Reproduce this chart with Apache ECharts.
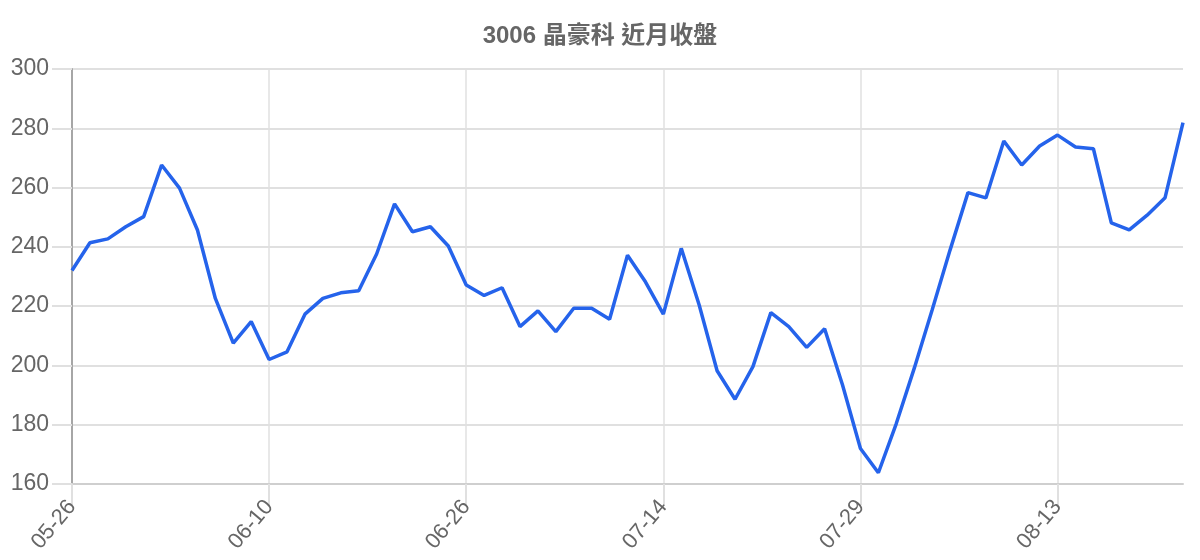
<!DOCTYPE html>
<html>
<head>
<meta charset="utf-8">
<title>3006 晶豪科 近月收盤</title>
<script src="https://cdn.jsdelivr.net/npm/echarts@6/dist/echarts.min.js"></script>
<style>
  html, body { margin: 0; padding: 0; background: #fff; }
  #chart { width: 1200px; height: 560px; }
</style>
</head>
<body>
<div id="chart"></div>
<script>
// trading days shown on the x axis
const dates = [
  '05-26', '05-27', '05-28', '05-29', '05-30', '06-02', '06-03', '06-04', '06-05', '06-06', '06-09', '06-10',
  '06-11', '06-12', '06-13', '06-16', '06-17', '06-18', '06-19', '06-23', '06-24', '06-25', '06-26',
  '06-27', '06-30', '07-01', '07-02', '07-03', '07-04', '07-08', '07-09', '07-10', '07-11', '07-14',
  '07-15', '07-16', '07-17', '07-18', '07-21', '07-22', '07-23', '07-24', '07-25', '07-28', '07-29',
  '07-30', '07-31', '08-01', '08-04', '08-05', '08-06', '08-07', '08-08', '08-11', '08-12', '08-13',
  '08-14', '08-15', '08-18', '08-19', '08-20', '08-21', '08-22'
];

// closing prices
const closes = [
  232.0, 241.4, 242.7, 246.8, 250.2, 267.6, 259.8, 245.7, 222.6, 207.5, 214.8, 202.0,
  204.6, 217.3, 222.6, 224.5, 225.2, 237.6, 254.5, 245.1, 246.8, 240.3, 227.1,
  223.6, 226.2, 213.1, 218.4, 211.4, 219.3, 219.3, 215.6, 237.2, 228.2, 217.3,
  239.5, 220.4, 198.2, 188.6, 199.6, 217.8, 213.1, 206.1, 212.4, 193.4, 172.0,
  163.8, 180.4, 199.0, 218.7, 238.9, 258.3, 256.5, 275.7, 267.6, 274.0, 277.7,
  273.7, 273.1, 248.1, 245.7, 250.7, 256.6, 281.9
];

const yTicks = { min: 160, max: 300, step: 20 };

const chart = echarts.init(document.getElementById('chart'));

const gridColor = '#e0e0e0';
const textColor = '#666';
const fontFamily = '"Liberation Sans", Arial, "Noto Sans CJK TC", sans-serif';

const option = {
  animation: false,
  title: {
    text: '3006 晶豪科 近月收盤',
    left: 'center',
    top: 19,
    textStyle: {
      color: textColor,
      fontSize: 24,
      fontWeight: 'bold',
      fontFamily: fontFamily
    }
  },
  grid: {
    left: 72,
    right: 17,
    top: 69,
    bottom: 76
  },
  xAxis: {
    type: 'category',
    data: dates,
    boundaryGap: false,
    axisLine: { lineStyle: { color: '#cfcfcf', width: 2 } },
    axisTick: {
      show: true,
      interval: 10,
      length: 21,
      lineStyle: { color: gridColor, width: 2 }
    },
    axisLabel: {
      interval: 10,
      rotate: 50,
      margin: 19,
      color: textColor,
      fontSize: 22,
      fontFamily: fontFamily
    },
    splitLine: {
      show: true,
      interval: 10,
      lineStyle: { color: gridColor, width: 1.5 }
    }
  },
  yAxis: {
    type: 'value',
    min: yTicks.min,
    max: yTicks.max,
    interval: yTicks.step,
    axisLine: { show: true, lineStyle: { color: '#a6a6a6', width: 2 } },
    axisTick: {
      show: true,
      length: 20,
      lineStyle: { color: gridColor, width: 2 }
    },
    axisLabel: {
      margin: 23,
      color: textColor,
      fontSize: 23,
      fontFamily: fontFamily
    },
    splitLine: {
      show: true,
      lineStyle: { color: gridColor, width: 2 }
    }
  },
  series: [{
    type: 'line',
    data: closes,
    showSymbol: false,
    lineStyle: { color: '#2563eb', width: 3.5 },
    itemStyle: { color: '#2563eb' }
  }]
};

chart.setOption(option);
</script>
</body>
</html>
